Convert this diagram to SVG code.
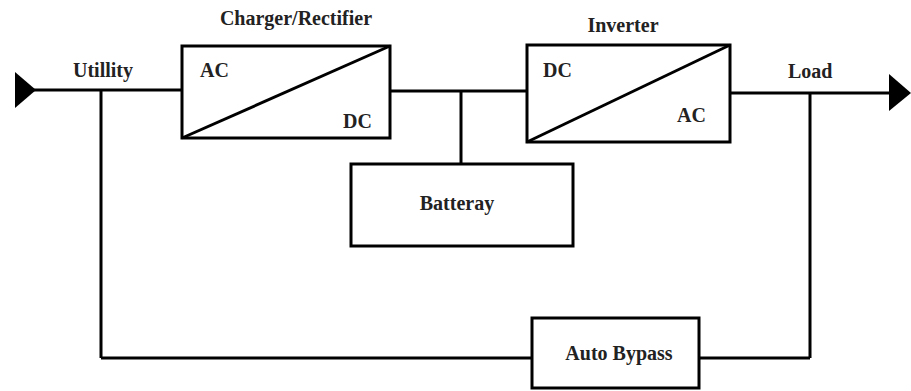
<svg xmlns="http://www.w3.org/2000/svg" width="911" height="391" viewBox="0 0 911 391">
<style>
.box{fill:#fff;stroke:#000;stroke-width:3}
.ln{fill:none;stroke:#000;stroke-width:3}
.diag{stroke:#000;stroke-width:3}
.t{font-family:"Liberation Serif","Times New Roman",serif;font-weight:bold;font-size:20px;fill:#222}
.c{text-anchor:middle}
</style>
<rect width="911" height="391" fill="#fff"/>
<g id="connectors">
<line class="ln" x1="30" y1="90" x2="182" y2="90"/>
<line class="ln" x1="101" y1="90" x2="101" y2="358"/>
<line class="ln" x1="101" y1="358" x2="532" y2="358"/>
<line class="ln" x1="390" y1="91" x2="527" y2="91"/>
<line class="ln" x1="461" y1="91" x2="461" y2="164"/>
<line class="ln" x1="730" y1="93" x2="892" y2="93"/>
<line class="ln" x1="810" y1="93" x2="810" y2="358"/>
<line class="ln" x1="699" y1="358" x2="810" y2="358"/>
<polygon points="15,72 36,90 15,108" fill="#000"/>
<polygon points="889,74 911,93 889,111" fill="#000"/>
</g>
<g id="utility"><text class="t" x="73" y="77">Utillity</text></g>
<g id="load"><text class="t" x="788" y="78">Load</text></g>
<g id="charger">
<rect class="box" x="182" y="46" width="208" height="92"/>
<line class="diag" x1="182" y1="138" x2="390" y2="46"/>
<text class="t c" x="296" y="25">Charger/Rectifier</text>
<text class="t" x="200" y="77">AC</text>
<text class="t" x="343" y="128">DC</text>
</g>
<g id="inverter">
<rect class="box" x="527" y="45" width="203" height="97"/>
<line class="diag" x1="527" y1="142" x2="730" y2="45"/>
<text class="t c" x="623" y="32">Inverter</text>
<text class="t" x="543" y="77">DC</text>
<text class="t" x="677" y="122">AC</text>
</g>
<g id="battery">
<rect class="box" x="351" y="164" width="222" height="82"/>
<text class="t c" x="457" y="210">Batteray</text>
</g>
<g id="bypass">
<rect class="box" x="532" y="318" width="167" height="70"/>
<text class="t c" x="619" y="360">Auto Bypass</text>
</g>
</svg>
